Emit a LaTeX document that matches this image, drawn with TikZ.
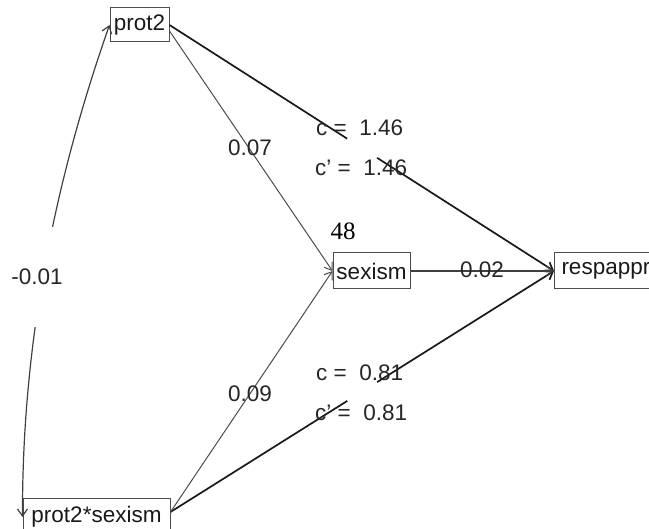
\documentclass[tikz,border=0pt]{standalone}
\usepackage{fontspec}
\setmainfont{Liberation Sans}
\newfontfamily\serifnum{Liberation Serif}
\usetikzlibrary{arrows.meta,calc}
\begin{document}
\begin{tikzpicture}[x=1pt,y=-1pt,
  box/.style={draw=black!70, line width=1pt, inner sep=0pt, font=\fontsize{22.5}{25}\selectfont, text=black!90},
  lbl/.style={font=\fontsize{22.5}{25}\selectfont, text=black!85, inner sep=0pt},
  barb/.tip={Straight Barb[length=7pt,width=10pt]},
  thinln/.style={draw=black!70, line width=1pt},
  thickln/.style={draw=black!90, line width=1.7pt},
  midln/.style={draw=black!75, line width=1.2pt}]
\useasboundingbox (0,0) rectangle (649,529);
% nodes
\node[box, minimum width=59, minimum height=34] (prot2) at (139.5,25) {prot2};
\node[box, minimum width=77, minimum height=36] (sexism) at (371.5,271) {sexism};
\node[box, minimum height=36, inner xsep=7pt, anchor=west] (resp) at (554,271) {respappr};
\node[box, minimum width=147, minimum height=36] (psx) at (96.5,517) {prot2*sexism};
% gap coordinates
\coordinate (ta) at ($(prot2.east)!0.462!(resp.west)$);
\coordinate (tb) at ($(prot2.east)!0.540!(resp.west)$);
\coordinate (pe) at ([yshift=5pt]psx.east);
\coordinate (ba) at ($(pe)!0.461!(resp.west)$);
\coordinate (bb) at ($(pe)!0.539!(resp.west)$);
\coordinate (pse) at ([yshift=-6pt]prot2.east);
% connectors
\draw[thickln] (prot2.east) -- (ta);
\draw[thickln,-barb] (tb) -- (resp.west);
\draw[thickln] (pe) -- (ba);
\draw[thickln,-barb] (bb) -- (resp.west);
\draw[thinln,-barb] (pse) -- (sexism.west);
\draw[thinln,-barb] (pe) -- (sexism.west);
\draw[midln,-barb] (sexism.east) -- (resp.west);
\draw[midln,barb-barb] (psx.west) .. controls (22,330) and (60,166) .. (prot2.west);
% labels
\node[lbl, fill=white, minimum height=100, minimum width=50] (cov) at (37,277) {-0.01};
\node[lbl] (l07) at (250,148) {0.07};
\node[lbl] (l09) at (250,394) {0.09};
\node[lbl] (l02) at (482,270) {0.02};
\node[lbl, anchor=west] (c1) at (316,128) {c = ~1.46};
\node[lbl, anchor=west] (c1p) at (315,168) {c' = ~1.46};
\node[lbl, anchor=west] (c2) at (316,373) {c = ~0.81};
\node[lbl, anchor=west] (c2p) at (315,413) {c' = ~0.81};
\node[font=\serifnum\fontsize{25}{28}\selectfont, inner sep=0pt] (n48) at (343,231) {48};
\end{tikzpicture}
\end{document}
